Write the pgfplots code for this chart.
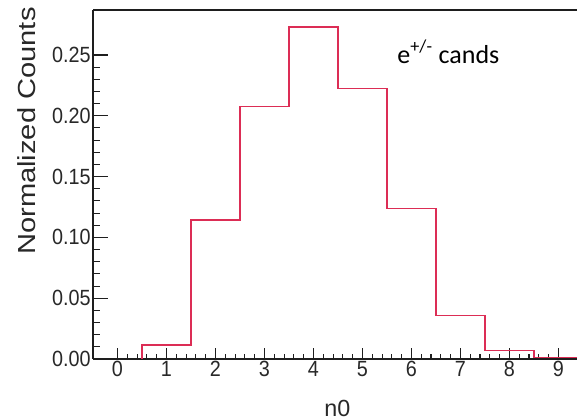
\documentclass[border=0pt]{standalone}
\usepackage{pgfplots}
\pgfplotsset{compat=1.18}
\usepackage{fontspec}
\setmainfont{Liberation Sans}
\newfontfamily\tickfont{Liberation Sans}[FakeStretch=0.9]
\newfontfamily\ylabfont{Liberation Sans}[FakeStretch=1.18]
\newfontfamily\xlabfont{Liberation Sans}[FakeStretch=1.0]
\newfontfamily\annfont{Carlito}
\definecolor{histred}{RGB}{220,45,85}
\definecolor{axisgray}{RGB}{30,30,30}
\definecolor{labgray}{RGB}{40,40,40}
\begin{document}
\begin{tikzpicture}
\path[use as bounding box] (0,0) rectangle (432.75pt,315pt);
\begin{axis}[
  at={(69.75pt,45.75pt)}, anchor=south west,
  scale only axis, width=363pt, height=261.75pt,
  xmin=-0.5, xmax=9.38, ymin=0, ymax=0.287,
  axis x line=box, axis y line=left,
  xtick pos=bottom, ytick pos=left,
  axis line style={axisgray, line width=1.1pt, -},
  tick align=inside,
  xtick={0,...,9}, ytick={0,0.05,...,0.25},
  minor x tick num=4, minor y tick num=4,
  major tick length=11.25pt, minor tick length=5.25pt,
  xtick style={axisgray, line width=0.8pt, /pgfplots/major tick length=8.25pt, /pgfplots/minor tick length=3.75pt},
  ytick style={axisgray, line width=0.8pt},
  /pgf/number format/assume math mode=true,
  yticklabel style={/pgf/number format/fixed, /pgf/number format/fixed zerofill, /pgf/number format/precision=2, font=\tickfont\fontsize{16.5pt}{17pt}\selectfont, text=labgray, inner sep=1.5pt},
  xticklabel style={font=\tickfont\fontsize{16.5pt}{17pt}\selectfont, text=labgray, inner sep=1.5pt},
  xlabel={n0},
  xlabel style={at={(axis description cs:0.505,-0.142)}, anchor=center, font=\xlabfont\fontsize{17.5pt}{18pt}\selectfont, text=labgray},
  ylabel={Normalized Counts},
  ylabel style={at={(axis description cs:-0.138,0.653)}, anchor=center, rotate=0, font=\ylabfont\fontsize{18.5pt}{19pt}\selectfont, text=labgray},
]
% bin contents, one entry per left bin edge; last point closes the final bin
\addplot[const plot, histred, line width=1.1pt] coordinates {
  (0.5,0) (0.5,0.0115) (1.5,0.1143) (2.5,0.2075) (3.5,0.2730)
  (4.5,0.2226) (5.5,0.1239) (6.5,0.0356) (7.5,0.0068) (8.5,0.0012) (9.5,0.0012)
};
\node[anchor=base west, inner sep=0pt, font=\annfont\fontsize{19.5pt}{20pt}\selectfont]
  at (axis cs:5.71,0.2434) {e\textsuperscript{+/-} cands};
\end{axis}
\end{tikzpicture}
\end{document}
